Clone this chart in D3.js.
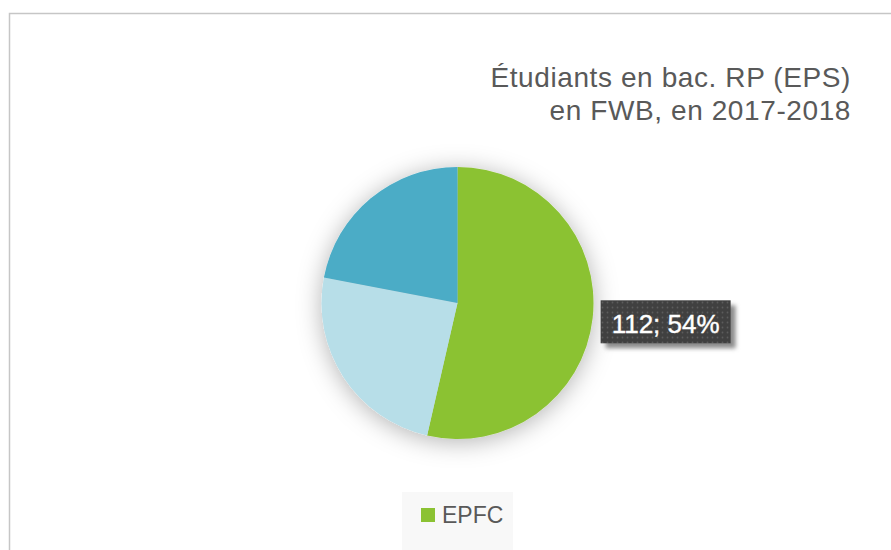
<!DOCTYPE html>
<html>
<head>
<meta charset="utf-8">
<script src="https://cdn.jsdelivr.net/npm/d3@7"></script>
<style>
  body { margin: 0; background: #fff; }
  svg { display: block; }
</style>
</head>
<body>
<div id="chart"></div>
<script>
// data
var categories = ["EPFC", "Autre 1", "Autre 2"];
var values = [112, 51, 46];
var colors = ["#8bc233", "#b7dee8", "#4bacc6"];
var titleLines = ["Étudiants en bac. RP (EPS)", "en FWB, en 2017-2018"];
var legendShown = ["EPFC"];

var W = 891, H = 550;
var cx = 457.5, cy = 303, r = 136;

var svg = d3.select("#chart").append("svg")
  .attr("width", W).attr("height", H);

var defs = svg.append("defs");
var sh = defs.append("filter").attr("id", "pieShadow")
  .attr("x", "-40%").attr("y", "-40%").attr("width", "180%").attr("height", "180%");
sh.append("feDropShadow").attr("dx", 0).attr("dy", 3).attr("stdDeviation", 12)
  .attr("flood-color", "#000").attr("flood-opacity", 0.3);

var bs = defs.append("filter").attr("id", "boxShadow")
  .attr("x", "-20%").attr("y", "-40%").attr("width", "140%").attr("height", "180%");
bs.append("feGaussianBlur").attr("stdDeviation", 2);

var pat = defs.append("pattern").attr("id", "dots")
  .attr("patternUnits", "userSpaceOnUse").attr("width", 5).attr("height", 5);
pat.append("rect").attr("width", 5).attr("height", 5).attr("fill", "#404040");
pat.append("circle").attr("cx", 2.5).attr("cy", 2.5).attr("r", 0.9).attr("fill", "#5c5c5c");

// chart frame
svg.append("rect")
  .attr("x", 9.5).attr("y", 13.5)
  .attr("width", W).attr("height", H)
  .attr("fill", "#fff").attr("stroke", "#c6c6c6").attr("stroke-width", 1.5);

// title
svg.append("text")
  .attr("text-anchor", "end")
  .attr("font-family", "Liberation Sans, Arial, sans-serif")
  .attr("font-size", 28).attr("letter-spacing", 0.6)
  .attr("fill", "#595959")
  .selectAll("tspan").data(titleLines).enter().append("tspan")
  .attr("x", 851).attr("y", function(d, i) { return 87 + i * 33; })
  .text(function(d) { return d; });

// pie
var pie = d3.pie().sort(null).value(function(d) { return d; });
var arcs = pie(values);
var arc = d3.arc().innerRadius(0).outerRadius(r);

var g = svg.append("g").attr("transform", "translate(" + cx + "," + cy + ")");
g.append("g").attr("filter", "url(#pieShadow)")
  .selectAll("path").data(arcs).enter().append("path")
  .attr("d", arc)
  .attr("fill", function(d, i) { return colors[i]; });

// data label for first slice
var total = d3.sum(values);
var a0 = arcs[0];
var mid = (a0.startAngle + a0.endAngle) / 2;
var px = cx + r * Math.sin(mid), py = cy - r * Math.cos(mid);
var label = values[0] + "; " + Math.round(values[0] / total * 100) + "%";
var bx = px + 8, by = py - 18, bw = 130, bh = 43;

svg.append("rect")
  .attr("x", bx + 5).attr("y", by + 5).attr("width", bw).attr("height", bh)
  .attr("fill", "#8c8c8c").attr("filter", "url(#boxShadow)");
svg.append("rect")
  .attr("x", bx).attr("y", by).attr("width", bw).attr("height", bh)
  .attr("fill", "url(#dots)");
svg.append("text")
  .attr("x", bx + bw / 2).attr("y", by + 33)
  .attr("text-anchor", "middle")
  .attr("font-family", "Liberation Sans, Arial, sans-serif")
  .attr("font-size", 26).attr("fill", "#fff")
  .attr("stroke", "#fff").attr("stroke-width", 0.4)
  .text(label);

// legend
var lg = svg.append("g");
lg.append("rect").attr("x", 402).attr("y", 492).attr("width", 111).attr("height", 60)
  .attr("fill", "#f8f8f8");
var items = lg.selectAll("g.item").data(legendShown).enter().append("g").attr("class", "item");
items.append("rect").attr("x", 421).attr("y", 508).attr("width", 14).attr("height", 14)
  .attr("fill", function(d) { return colors[categories.indexOf(d)]; });
items.append("text").attr("x", 442).attr("y", 523)
  .attr("font-family", "Liberation Sans, Arial, sans-serif")
  .attr("font-size", 23).attr("fill", "#595959")
  .text(function(d) { return d; });
</script>
</body>
</html>
